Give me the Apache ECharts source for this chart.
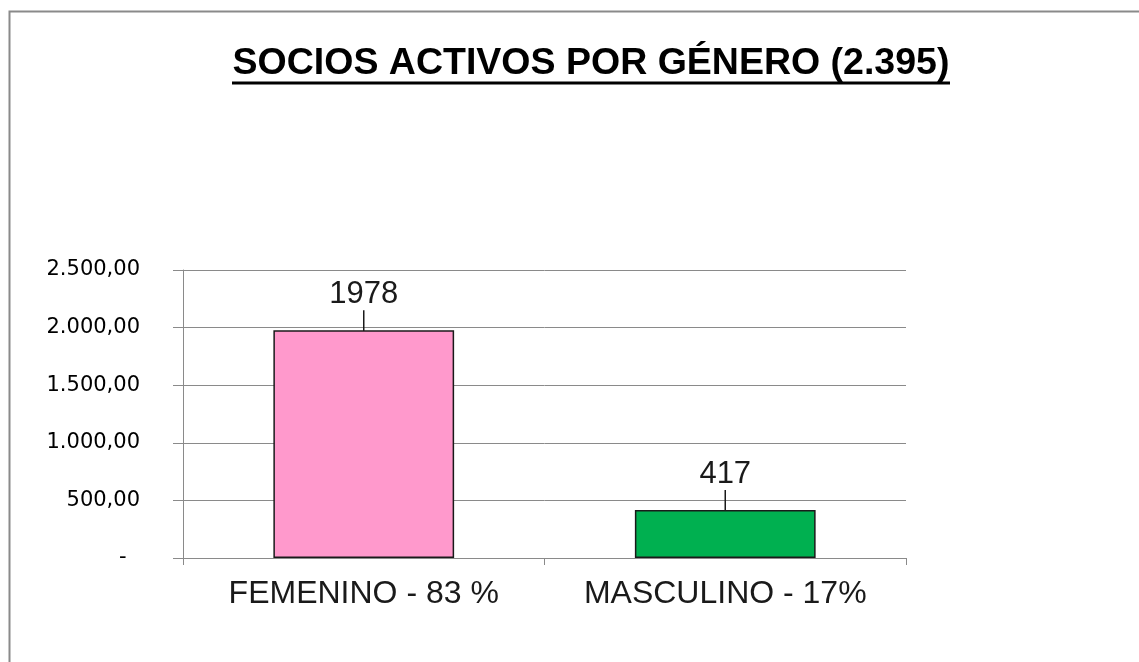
<!DOCTYPE html>
<html>
<head>
<meta charset="utf-8">
<script src="https://cdn.jsdelivr.net/npm/echarts@6/dist/echarts.min.js"></script>
<style>
  html, body { margin: 0; padding: 0; background: #ffffff; }
  #main { width: 1139px; height: 662px; }
</style>
</head>
<body>
<div id="main"></div>
<script>
// datos del grafico
var categorias = ['FEMENINO - 83 %', 'MASCULINO - 17%']
var socios = [1978, 417]
var colores = ['#FF99CC', '#00B050']
var titulo = 'SOCIOS ACTIVOS POR GÉNERO (2.395)'

function formatoNumero(v) {
  if (v === 0) return '-  '
  var s = v.toFixed(2).split('.')
  var ent = s[0].replace(/\B(?=(\d{3})+(?!\d))/g, '.')
  return ent + ',' + s[1]
}

var myChart = echarts.init(document.getElementById('main'))

var option = {
  backgroundColor: '#ffffff',
  animation: false,
  graphic: [
    {
      type: 'rect',
      shape: { x: 9.5, y: 11.5, width: 1200, height: 700 },
      style: { fill: 'none', stroke: '#8a8a8a', lineWidth: 2 },
      silent: true
    },
    {
      type: 'text',
      style: {
        text: titulo,
        x: 591,
        y: 64,
        align: 'center',
        verticalAlign: 'middle',
        font: 'bold 37.5px "Liberation Sans", Arial, sans-serif',
        fill: '#000000'
      }
    },
    {
      type: 'line',
      shape: { x1: 232, y1: 83, x2: 950, y2: 83 },
      style: { stroke: '#000000', lineWidth: 3 }
    }
  ],
  grid: {
    left: 183,
    right: 233,
    top: 270,
    bottom: 104
  },
  xAxis: {
    type: 'category',
    data: categorias,
    axisLine: { show: true, lineStyle: { color: '#8a8a8a', width: 1 } },
    axisTick: { show: true, length: 7, alignWithLabel: false, lineStyle: { color: '#8a8a8a' } },
    axisLabel: {
      interval: 0,
      hideOverlap: false,
      color: '#1a1a1a',
      fontSize: 32,
      fontFamily: '"Liberation Sans", Arial, sans-serif',
      margin: 20
    }
  },
  yAxis: {
    type: 'value',
    min: 0,
    max: 2500,
    interval: 500,
    axisLine: { show: true, lineStyle: { color: '#8a8a8a', width: 1 } },
    axisTick: { show: true, length: 10, lineStyle: { color: '#8a8a8a' } },
    splitLine: { show: true, lineStyle: { color: '#8a8a8a', width: 1 } },
    axisLabel: {
      color: '#000000',
      fontSize: 21,
      fontFamily: '"DejaVu Sans", Verdana, sans-serif',
      margin: 43,
      formatter: formatoNumero
    }
  },
  series: [
    {
      type: 'bar',
      barWidth: '50%',
      data: socios.map(function(v, i) {
        return { value: v, itemStyle: { color: colores[i] } }
      }),
      itemStyle: { borderColor: '#1a1a1a', borderWidth: 1.5 },
      label: {
        show: true,
        position: 'top',
        distance: 2,
        color: '#1a1a1a',
        fontSize: 31,
        fontFamily: '"Liberation Sans", Arial, sans-serif'
      },
      labelLayout: { dy: -18 },
      labelLine: { show: true, lineStyle: { color: '#1a1a1a', width: 1.5 } }
    }
  ]
}

myChart.setOption(option, true)
window.addEventListener('resize', () => {
  myChart.resize()
})
</script>
</body>
</html>
